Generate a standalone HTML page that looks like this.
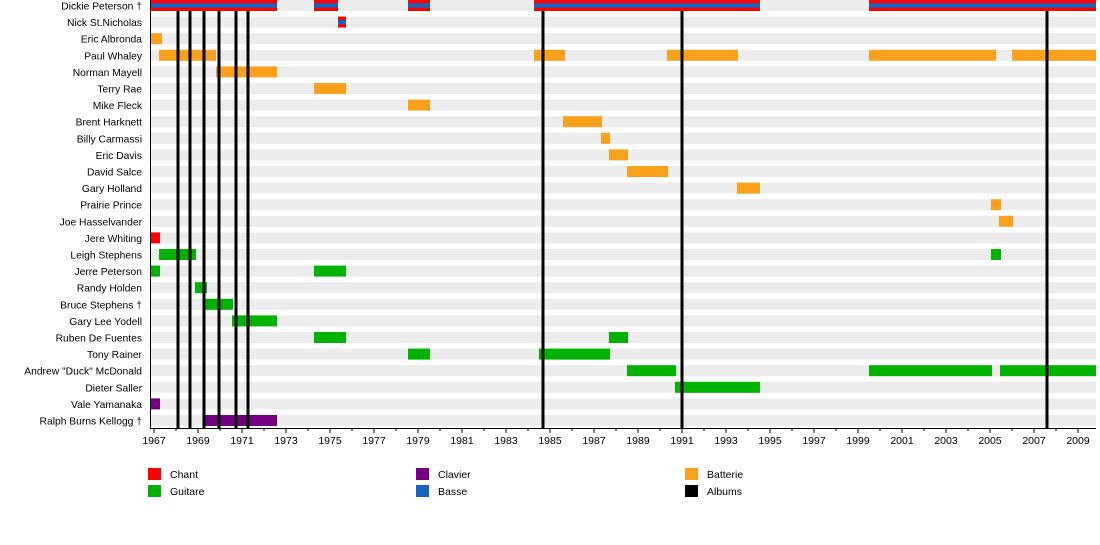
<!DOCTYPE html><html><head><style>body{margin:0;background:#fff}svg{display:block;font-family:"Liberation Sans",sans-serif;font-size:10.5px}</style></head><body>
<svg id="s" width="1100" height="545" xmlns="http://www.w3.org/2000/svg"></svg>
<script>
const s=document.getElementById('s');let h='';
const names=["Dickie Peterson †","Nick St.Nicholas","Eric Albronda","Paul Whaley","Norman Mayell","Terry Rae","Mike Fleck","Brent Harknett","Billy Carmassi","Eric Davis","David Salce","Gary Holland","Prairie Prince","Joe Hasselvander","Jere Whiting","Leigh Stephens","Jerre Peterson","Randy Holden","Bruce Stephens †","Gary Lee Yodell","Ruben De Fuentes","Tony Rainer","Andrew \"Duck\" McDonald","Dieter Saller","Vale Yamanaka","Ralph Burns Kellogg †"];
const O='#f9a11b',G='#00b300',P='#730080',R='#ff0000',B='#1565c0';
const bars=[[0,'DB',[[151,277],[314,338],[408,430],[534,760],[869,1096]]],[1,'DB',[[338,346]]],[2,O,[[151,162]]],[3,O,[[159,216],[534,565],[667,738],[869,996],[1012,1096]]],[4,O,[[216,277]]],[5,O,[[314,346]]],[6,O,[[408,430]]],[7,O,[[563,602]]],[8,O,[[601,610]]],[9,O,[[609,628]]],[10,O,[[627,668]]],[11,O,[[737,760]]],[12,O,[[991,1001]]],[13,O,[[999,1013]]],[14,R,[[151,160]]],[15,G,[[159,196],[991,1001]]],[16,G,[[151,160],[314,346]]],[17,G,[[195,207]]],[18,G,[[203,233]]],[19,G,[[232,277]]],[20,G,[[314,346],[609,628]]],[21,G,[[408,430],[539,610]]],[22,G,[[627,676],[869,992],[1000,1096]]],[23,G,[[675,760]]],[24,P,[[151,160]]],[25,P,[[203,277]]]];
const yc=i=>5.5+i*16.6;
names.forEach((n,i)=>{h+=`<rect x="151" y="${yc(i)-5.5}" width="945" height="11" fill="#ececec"/>`;h+=`<text x="142" y="${yc(i)+4}" text-anchor="end" font-size="10.3">${n.replace(/"/g,'&quot;')}</text>`;});
bars.forEach(([i,c,rs])=>rs.forEach(([a,b])=>{const y=yc(i)-5.5;if(c==='DB'){h+=`<rect x="${a}" y="${y}" width="${b-a}" height="11" fill="${R}"/><rect x="${a}" y="${y+3.3}" width="${b-a}" height="4.4" fill="${B}"/>`}else h+=`<rect x="${a}" y="${y}" width="${b-a}" height="11" fill="${c}"/>`;}));
[178,190,204,219,236,248,543,682,1047].forEach(x=>h+=`<rect x="${x-1.5}" y="11" width="3" height="417" fill="#000"/>`);
h+=`<line x1="150.5" y1="0" x2="150.5" y2="428" stroke="#000"/><line x1="150" y1="428.5" x2="1096" y2="428.5" stroke="#000"/>`;
for(let y=1967;y<=2009;y++){const x=154+(y-1967)*22;h+=`<line x1="${x}" y1="428" x2="${x}" y2="${y%2?433:431}" stroke="#000"/>`;if(y%2)h+=`<text x="${x}" y="444" text-anchor="middle">${y}</text>`;}
[[148,468,R,'Chant'],[148,485,G,'Guitare'],[416,468,P,'Clavier'],[416,485,B,'Basse'],[685,468,O,'Batterie'],[685,485,'#000','Albums']].forEach(([x,y,c,t])=>h+=`<rect x="${x}" y="${y}" width="13" height="12" fill="${c}"/><text x="${x+22}" y="${y+10}">${t}</text>`);
s.innerHTML=h;
</script></body></html>
